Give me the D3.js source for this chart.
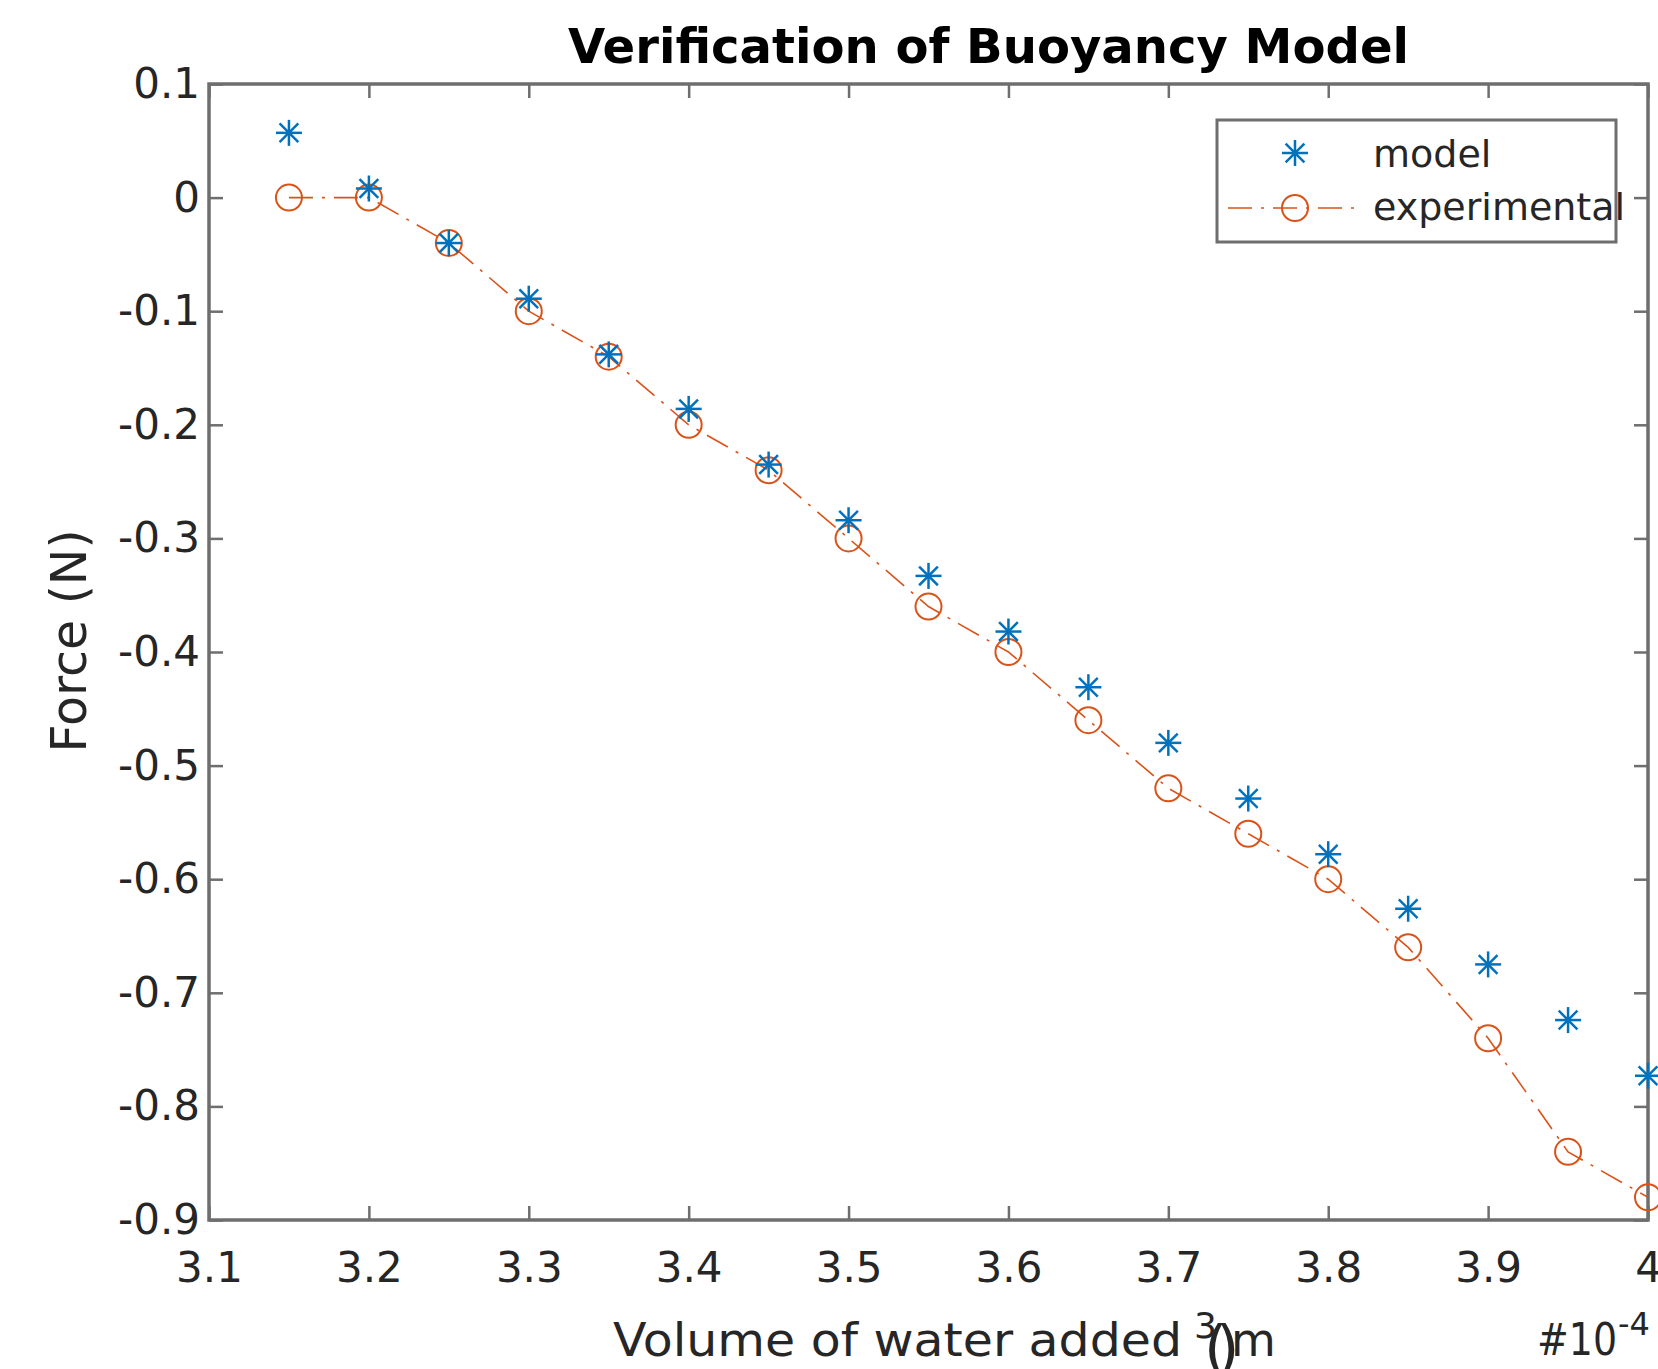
<!DOCTYPE html>
<html>
<head>
<meta charset="utf-8">
<script src="https://cdn.jsdelivr.net/npm/d3@7"></script>
<style>
  body { margin: 0; background: #fff; }
  svg { display: block; font-family: "DejaVu Sans", Verdana, sans-serif; }
</style>
</head>
<body>
<div id="chart"></div>
<script>
// data
var volume = [3.15, 3.20, 3.25, 3.30, 3.35, 3.40, 3.45, 3.50, 3.55, 3.60, 3.65, 3.70, 3.75, 3.80, 3.85, 3.90, 3.95, 4.00];
var model = [0.057, 0.008, -0.040, -0.089, -0.138, -0.186, -0.235, -0.284, -0.333, -0.382, -0.431, -0.480, -0.529, -0.578, -0.626, -0.675, -0.724, -0.773];
var experimental = [0, 0, -0.04, -0.10, -0.14, -0.20, -0.24, -0.30, -0.36, -0.40, -0.46, -0.52, -0.56, -0.60, -0.66, -0.74, -0.84, -0.88];
var xTicks = [3.1, 3.2, 3.3, 3.4, 3.5, 3.6, 3.7, 3.8, 3.9, 4.0];
var yTicks = [0.1, 0, -0.1, -0.2, -0.3, -0.4, -0.5, -0.6, -0.7, -0.8, -0.9];

//Width and height
var w = 1658;
var h = 1369;
var pLeft = 209, pRight = 1648, pTop = 84, pBottom = 1220;

var blue = '#0072BD';
var orange = '#D95319';
var axisColor = '#6e6e6e';
var textColor = '#262626';

var svg = d3.select('#chart')
            .append('svg')
            .attr('width', w)
            .attr('height', h);

var x = d3.scaleLinear().domain([3.1, 4.0]).range([pLeft, pRight]);
var y = d3.scaleLinear().domain([-0.9, 0.1]).range([pBottom, pTop]);

var fmt = function (d) { return String(+d.toFixed(1)); };

//axes, ticks pointing inward
var gx = svg.append('g')
  .attr('transform', 'translate(0,' + pBottom + ')')
  .call(d3.axisBottom(x).tickValues(xTicks).tickSize(-14).tickFormat(fmt));
gx.selectAll('text')
  .attr('y', 32)
  .attr('dy', '0.71em')
  .attr('font-size', 42);

var gy = svg.append('g')
  .attr('transform', 'translate(' + pLeft + ',0)')
  .call(d3.axisLeft(y).tickValues(yTicks).tickSize(-14).tickFormat(fmt));
gy.selectAll('text')
  .attr('x', -9)
  .attr('font-size', 42);

svg.append('g')
  .attr('transform', 'translate(0,' + pTop + ')')
  .call(d3.axisTop(x).tickValues(xTicks).tickSize(-14).tickFormat(''));

svg.append('g')
  .attr('transform', 'translate(' + pRight + ',0)')
  .call(d3.axisRight(y).tickValues(yTicks).tickSize(-14).tickFormat(''));

svg.selectAll('.domain').remove();
svg.selectAll('.tick line').attr('stroke', axisColor).attr('stroke-width', 2.5);
svg.selectAll('.tick text').attr('fill', textColor).attr('font-family', '"DejaVu Sans", Verdana, sans-serif');

//box around the plot
svg.append('rect')
  .attr('x', pLeft)
  .attr('y', pTop)
  .attr('width', pRight - pLeft)
  .attr('height', pBottom - pTop)
  .attr('fill', 'none')
  .attr('stroke', axisColor)
  .attr('stroke-width', 3.5);

//experimental line
var expData = volume.map(function (v, i) { return [v, experimental[i]]; });
var modelData = volume.map(function (v, i) { return [v, model[i]]; });

var line = d3.line()
  .x(function (d) { return x(d[0]); })
  .y(function (d) { return y(d[1]); });

svg.append('path')
  .datum(expData)
  .attr('d', line)
  .attr('fill', 'none')
  .attr('stroke', orange)
  .attr('stroke-width', 1.6)
  .attr('stroke-dasharray', '24,9,3,9');

svg.selectAll('circle.exp')
  .data(expData)
  .enter()
  .append('circle')
  .attr('class', 'exp')
  .attr('cx', function (d) { return x(d[0]); })
  .attr('cy', function (d) { return y(d[1]); })
  .attr('r', 13)
  .attr('fill', 'none')
  .attr('stroke', orange)
  .attr('stroke-width', 2);

//asterisk marker
function star(g, s) {
  var d = s * 0.72;
  g.append('line').attr('x1', 0).attr('y1', -s).attr('x2', 0).attr('y2', s);
  g.append('line').attr('x1', -s).attr('y1', 0).attr('x2', s).attr('y2', 0);
  g.append('line').attr('x1', -d).attr('y1', -d).attr('x2', d).attr('y2', d);
  g.append('line').attr('x1', -d).attr('y1', d).attr('x2', d).attr('y2', -d);
}

svg.selectAll('g.model')
  .data(modelData)
  .enter()
  .append('g')
  .attr('class', 'model')
  .attr('transform', function (d) { return 'translate(' + x(d[0]) + ',' + y(d[1]) + ')'; })
  .attr('stroke', blue)
  .attr('stroke-width', 2.5)
  .each(function () { star(d3.select(this), 13); });

//title
svg.append('text')
  .attr('x', 568)
  .attr('y', 63)
  .attr('font-size', 48)
  .attr('font-weight', 'bold')
  .attr('fill', '#000')
  .attr('textLength', 841)
  .attr('lengthAdjust', 'spacingAndGlyphs')
  .text('Verification of Buoyancy Model');

//y label
svg.append('text')
  .attr('transform', 'translate(86,641) rotate(-90)')
  .attr('text-anchor', 'middle')
  .attr('font-size', 49)
  .attr('fill', textColor)
  .text('Force (N)');

//x label, with its broken superscript
var xl = svg.append('g').attr('fill', textColor);
xl.append('text')
  .attr('x', 613)
  .attr('y', 1356)
  .attr('font-size', 47)
  .attr('textLength', 569)
  .attr('lengthAdjust', 'spacingAndGlyphs')
  .text('Volume of water added');
xl.append('text')
  .attr('x', 1194)
  .attr('y', 1338)
  .attr('font-size', 36)
  .text('3');
xl.append('text')
  .attr('x', 1204)
  .attr('y', 1369)
  .attr('font-size', 60)
  .text('(');
xl.append('text')
  .attr('x', 1216)
  .attr('y', 1369)
  .attr('font-size', 60)
  .text(')');
xl.append('text')
  .attr('x', 1231)
  .attr('y', 1356)
  .attr('font-size', 46)
  .text('m');

//exponent
var ex = svg.append('g').attr('fill', textColor);
ex.append('text')
  .attr('x', 1537)
  .attr('y', 1355)
  .attr('font-size', 44)
  .attr('textLength', 80)
  .attr('lengthAdjust', 'spacingAndGlyphs')
  .text('#10');
ex.append('text')
  .attr('x', 1618)
  .attr('y', 1335)
  .attr('font-size', 32)
  .text('-4');

//legend
var lg = svg.append('g');
lg.append('rect')
  .attr('x', 1217)
  .attr('y', 120)
  .attr('width', 399)
  .attr('height', 122)
  .attr('fill', '#fff')
  .attr('stroke', axisColor)
  .attr('stroke-width', 3);

var ms = lg.append('g')
  .attr('transform', 'translate(1295,153)')
  .attr('stroke', blue)
  .attr('stroke-width', 2.5);
star(ms, 13);

lg.append('line')
  .attr('x1', 1228).attr('y1', 208)
  .attr('x2', 1362).attr('y2', 208)
  .attr('stroke', orange)
  .attr('stroke-width', 1.6)
  .attr('stroke-dasharray', '24,9,3,9');
lg.append('circle')
  .attr('cx', 1295).attr('cy', 208).attr('r', 13)
  .attr('fill', 'none')
  .attr('stroke', orange)
  .attr('stroke-width', 2);

lg.append('text')
  .attr('x', 1373).attr('y', 167)
  .attr('font-size', 38)
  .attr('fill', textColor)
  .text('model');
lg.append('text')
  .attr('x', 1373).attr('y', 220)
  .attr('font-size', 38)
  .attr('fill', textColor)
  .text('experimental');
</script>
</body>
</html>
